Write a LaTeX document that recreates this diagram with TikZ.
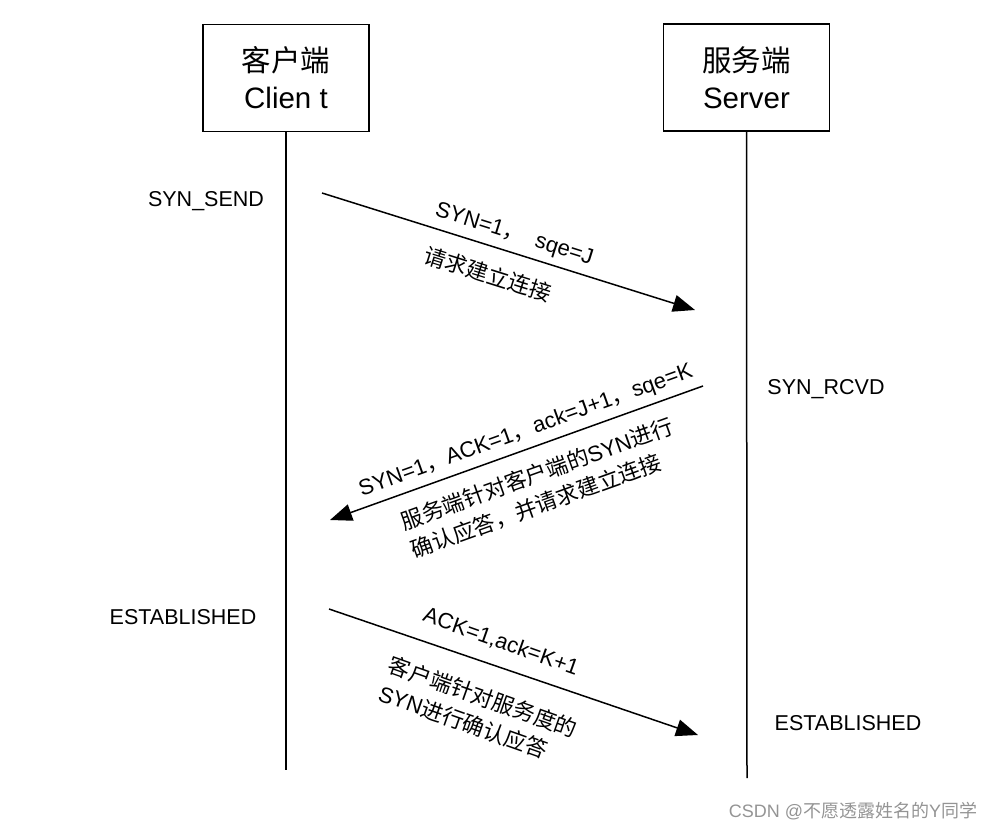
\documentclass[tikz,border=0pt]{standalone}
\usepackage{fontspec}
\setmainfont{Liberation Sans}
\newfontfamily\cjk{Noto Sans CJK SC}
\usetikzlibrary{arrows.meta}
\tikzset{
  party/.style={draw, line width=1.5pt, minimum width=166pt, minimum height=107pt, align=center, font=\fontsize{29.5}{37}\selectfont, inner sep=0pt},
  life/.style={line width=1.5pt},
  msg/.style={line width=1.5pt, -{Triangle[length=22pt,width=17pt]}},
  state/.style={font=\fontsize{21.5}{24}\selectfont, inner sep=0pt},
  lbl/.style={font=\fontsize{22}{30}\selectfont, inner sep=0pt, align=left},
}
\begin{document}
\begin{tikzpicture}[x=1pt,y=-1pt]
\useasboundingbox (0,0) rectangle (993,829);
\node[party] (client) at (286,78) {{\cjk 客户端}\\Clien t};
\node[party] (server) at (746.5,77.5) {{\cjk 服务端}\\Server};
\coordinate (cend) at (286,770);
\coordinate (send) at (747,778);
\draw[life] (client.south) -- (cend);
\draw[life] (server.south) -- (send);

\node[state] (synsend) at (206,201) {SYN\_SEND};
\node[state] (synrcvd) at (826,389) {SYN\_RCVD};
\node[state] (estc) at (183,617) {ESTABLISHED};
\node[state] (ests) at (848,723) {ESTABLISHED};

\coordinate (a1s) at (322,193);
\coordinate (a1e) at (695,310);
\coordinate (a2s) at (703,386);
\coordinate (a2e) at (330,520);
\coordinate (a3s) at (329,609);
\coordinate (a3e) at (698,735);
\draw[msg] (a1s) -- (a1e);
\draw[msg] (a2s) -- (a2e);
\draw[msg] (a3s) -- (a3e);

\node[lbl, rotate=-17.5] (l1a) at (514,235) {SYN=1{\cjk ，}\ \ sqe=J};
\node[lbl, rotate=-17.5] (l1b) at (488,274) {\cjk 请求建立连接};

\node[lbl, rotate=19.8] (l2a) at (526,431) {SYN=1{\cjk ，}ACK=1{\cjk ，}ack=J+1{\cjk ，}sqe=K};
\node[lbl, rotate=19.8] (l2b) at (542,488) {{\cjk 服务端针对客户端的}SYN{\cjk 进行}\\{\cjk 确认应答，并请求建立连接}};

\node[lbl, rotate=-19.5] (l3a) at (501,642) {ACK=1,ack=K+1};
\node[lbl, rotate=-19.5] (l3b) at (478,711) {{\cjk 客户端针对服务度的}\\SYN{\cjk 进行确认应答}};

\node[font=\fontsize{18}{20}\selectfont, text=black!42, inner sep=0pt] (wm) at (853,811) {CSDN @{\cjk 不愿透露姓名的}Y{\cjk 同学}};
\end{tikzpicture}
\end{document}
